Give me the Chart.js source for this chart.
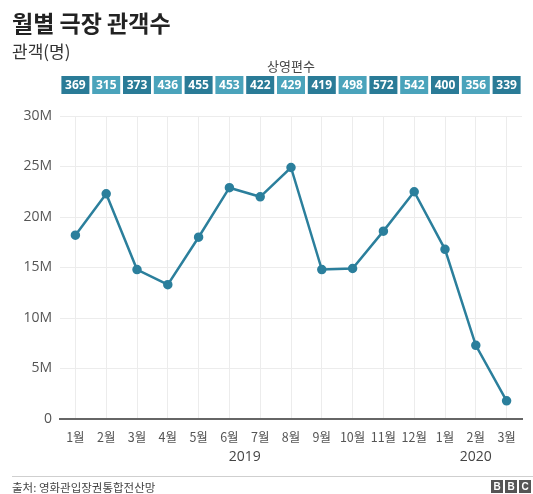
<!DOCTYPE html>
<html>
<head>
<meta charset="utf-8">
<script src="https://cdn.jsdelivr.net/npm/chart.js@4"></script>
<style>
  body { margin: 0; background: #fff; font-family: "Noto Sans CJK KR", "Noto Sans", sans-serif; }
  #wrap { position: relative; width: 533px; height: 494px; overflow: hidden; }
  #myChart { position: absolute; left: 0; top: 0; }
  .title { position: absolute; left: 12px; top: 5px; font-size: 23px; font-weight: bold; color: #222; }
  .sub { position: absolute; left: 12px; top: 38px; font-size: 17px; color: #333; }
  .boxlabel { position: absolute; left: 0; width: 582px; top: 56px; text-align: center; font-size: 13px; color: #444; }
  .footline { position: absolute; left: 12px; right: 0; top: 476px; border-top: 1px solid #cfcfcf; }
  .source { position: absolute; left: 12px; top: 479px; font-size: 11.5px; color: #444; }
  .bbc { position: absolute; right: 2px; top: 480px; display: flex; }
  .bbc span { display: block; width: 12px; height: 13px; margin-left: 2px; background: #555; color: #fff;
    font: bold 10px/13px "Liberation Sans", sans-serif; text-align: center; }
</style>
</head>
<body>
<div id="wrap">
  <canvas id="myChart" width="533" height="494"></canvas>
  <div class="title">월별 극장 관객수</div>
  <div class="sub">관객(명)</div>
  <div class="boxlabel">상영편수</div>
  <div class="footline"></div>
  <div class="source">출처: 영화관입장권통합전산망</div>
  <div class="bbc"><span>B</span><span>B</span><span>C</span></div>
</div>
<script>
// DATA
const months = ["1월", "2월", "3월", "4월", "5월", "6월", "7월", "8월", "9월", "10월", "11월", "12월", "1월", "2월", "3월"];
// 관객수, 백만 명 단위
const audience = [18.2, 22.3, 14.8, 13.3, 18.0, 22.9, 22.0, 24.9, 14.8, 14.9, 18.6, 22.5, 16.8, 7.3, 1.8];
// 상영편수
const screenings = [369, 315, 373, 436, 455, 453, 422, 429, 419, 498, 572, 542, 400, 356, 339];
const yearNames = ["2019", "2020"];
const yearFirst = [0, 12];
const yearLast = [11, 14];
const yTicks = [0, 5, 10, 15, 20, 25, 30];

const lineColor = "#2b7f9c";

// boxes with the screening counts + year labels under the month ticks
const extras = {
  id: "extras",
  afterDraw(chart) {
    const ctx = chart.ctx;
    const x = chart.scales.x;
    ctx.save();
    ctx.textAlign = "center";
    ctx.textBaseline = "middle";
    screenings.forEach((v, i) => {
      const cx = x.getPixelForValue(i);
      ctx.fillStyle = i % 2 == 0 ? "#2a7b97" : "#4aa3bb";
      ctx.fillRect(cx - 14, 76, 28, 18);
      ctx.fillStyle = "#fff";
      ctx.font = "bold 12px 'Open Sans', 'Noto Sans', sans-serif";
      ctx.fillText(v, cx, 85.5);
    });
    ctx.fillStyle = "#444";
    ctx.font = "14px 'Open Sans', 'Noto Sans', sans-serif";
    yearNames.forEach((name, i) => {
      const cx = (x.getPixelForValue(yearFirst[i]) + x.getPixelForValue(yearLast[i])) / 2;
      ctx.fillText(name, cx, 457);
    });
    ctx.restore();
  },
};

const ctx = document.getElementById("myChart");
const chart = new Chart(ctx, {
  type: "line",
  data: {
    labels: months,
    datasets: [
      {
        data: audience,
        borderColor: lineColor,
        backgroundColor: lineColor,
        borderWidth: 2.5,
        pointRadius: 3.5,
        pointHoverRadius: 3.5,
        tension: 0,
      },
    ],
  },
  options: {
    responsive: false,
    animation: false,
    layout: { padding: { top: 116, right: 11, bottom: 0, left: 0 } },
    plugins: { legend: { display: false }, tooltip: { enabled: false } },
    scales: {
      x: {
        offset: true,
        afterFit: (s) => { s.height = 75; },
        grid: { offset: false, color: "#ececec", drawTicks: false },
        border: { color: "#666", width: 2 },
        ticks: {
          padding: 11,
          color: "#555",
          font: { size: 12.5, family: "'Noto Sans CJK KR', sans-serif" },
          maxRotation: 0,
          autoSkip: false,
        },
      },
      y: {
        min: 0,
        max: 30,
        afterFit: (s) => { s.width = 60; },
        afterBuildTicks: (s) => { s.ticks = yTicks.map((v) => ({ value: v })); },
        grid: { color: "#ececec", drawTicks: false },
        border: { display: false },
        ticks: {
          padding: 8,
          color: "#555",
          font: { size: 14, family: "'Open Sans', 'Noto Sans', sans-serif" },
          callback: (v) => (v == 0 ? "0" : v + "M"),
        },
      },
    },
  },
  plugins: [extras],
});
</script>
</body>
</html>
